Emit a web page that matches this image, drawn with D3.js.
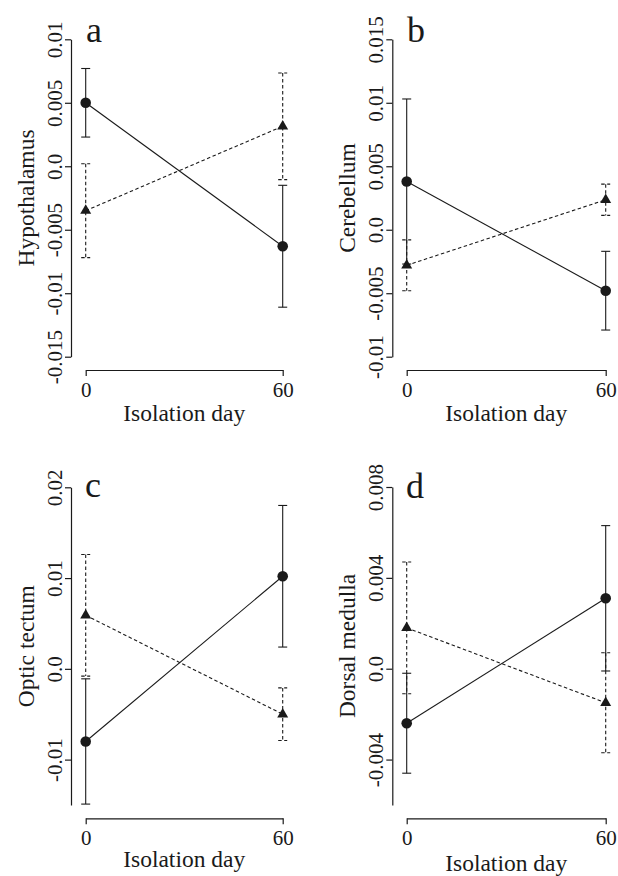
<!DOCTYPE html>
<html>
<head>
<meta charset="utf-8">
<script src="https://cdn.jsdelivr.net/npm/d3@7"></script>
<style>
  body { margin: 0; background: #fff; }
  svg text { font-family: "Liberation Serif", "Times New Roman", Times, serif; }
</style>
</head>
<body>
<svg id="chart" width="618" height="876"></svg>
<script>
// values
var days = [0, 60];
var panelLetters = ["a", "b", "c", "d"];
var regionNames = ["Hypothalamus", "Cerebellum", "Optic tectum", "Dorsal medulla"];
var yDomains = [[-0.015, 0.01], [-0.01, 0.015], [-0.015, 0.02], [-0.006, 0.008]];
var yTicks = [
  [-0.015, -0.01, -0.005, 0, 0.005, 0.01],
  [-0.01, -0.005, 0, 0.005, 0.01, 0.015],
  [-0.01, 0, 0.01, 0.02],
  [-0.004, 0, 0.004, 0.008]
];
var yTickLabels = [
  ["-0.015", "-0.01", "-0.005", "0.0", "0.005", "0.01"],
  ["-0.01", "-0.005", "0.0", "0.005", "0.01", "0.015"],
  ["-0.01", "0.0", "0.01", "0.02"],
  ["-0.004", "0.0", "0.004", "0.008"]
];
// solid line, circles
var circleMean = [[0.0050, -0.0063], [0.0038, -0.0048], [-0.0080, 0.0102], [-0.0024, 0.0031]];
var circleSE = [[0.0027, 0.0048], [0.0065, 0.0031], [0.0069, 0.0078], [0.0022, 0.0032]];
// dashed line, triangles
var triMean = [[-0.0035, 0.00315], [-0.0028, 0.00236], [0.0059, -0.0050], [0.0018, -0.0015]];
var triSE = [[0.0037, 0.0042], [0.0020, 0.00123], [0.0067, 0.0029], [0.0029, 0.0022]];

var svg = d3.select("#chart");
var ink = "#1a1a1a";
var serif = "'Liberation Serif', 'Times New Roman', Times, serif";

// panel frames (axis x position, x range, y range, x axis line)
var frames = [
  { ax: 71,    x0: 85.7,  x1: 282.7, yTop: 39.3,  yBot: 356.7, xAxisY: 370,   titleY: 421, letterX: 86,  letterY: 42 },
  { ax: 392.3, x0: 406.7, x1: 605.7, yTop: 39.3,  yBot: 356.7, xAxisY: 370,   titleY: 421, letterX: 407, letterY: 42 },
  { ax: 71,    x0: 85.7,  x1: 282.7, yTop: 487.3, yBot: 805,   xAxisY: 818.3, titleY: 867, letterX: 85,  letterY: 497 },
  { ax: 392.3, x0: 406.7, x1: 605.7, yTop: 487,   yBot: 805,   xAxisY: 818.3, titleY: 871, letterX: 406, letterY: 498 }
];

frames.forEach(function(f, i) {
  var g = svg.append("g");
  var x = d3.scaleLinear().domain([0, 60]).range([f.x0, f.x1]);
  var y = d3.scaleLinear().domain(yDomains[i]).range([f.yBot, f.yTop]);

  // y axis
  var yAx = g.append("g")
    .attr("transform", "translate(" + f.ax + ",0)")
    .call(d3.axisLeft(y).tickValues(yTicks[i])
      .tickFormat(function(d, k) { return yTickLabels[i][k]; })
      .tickSize(6).tickSizeOuter(0));
  yAx.selectAll("text")
    .attr("transform", "rotate(-90)")
    .attr("x", 0).attr("y", -9).attr("dy", 0)
    .attr("text-anchor", "middle")
    .style("font-size", "21px");

  // x axis
  var xAx = g.append("g")
    .attr("transform", "translate(0," + f.xAxisY + ")")
    .call(d3.axisBottom(x).tickValues(days).tickSize(6).tickSizeOuter(0));
  xAx.selectAll("text")
    .attr("y", 27).attr("dy", 0)
    .style("font-size", "21px");

  g.selectAll(".domain, .tick line").attr("stroke", ink).attr("stroke-width", 1.2);

  // titles
  g.append("text")
    .attr("transform", "translate(" + (f.ax - 37) + "," + ((f.yTop + f.yBot) / 2) + ") rotate(-90)")
    .attr("text-anchor", "middle")
    .style("font-size", "23.5px")
    .text(regionNames[i]);
  g.append("text")
    .attr("x", (f.x0 + f.x1) / 2).attr("y", f.titleY)
    .attr("text-anchor", "middle")
    .style("font-size", "23.5px")
    .text("Isolation day");
  g.append("text")
    .attr("x", f.letterX).attr("y", f.letterY)
    .style("font-size", "36px")
    .text(panelLetters[i]);

  var series = [
    { mean: triMean[i], se: triSE[i], dash: "3.5,2.5", shape: "tri" },
    { mean: circleMean[i], se: circleSE[i], dash: null, shape: "circle" }
  ];

  series.forEach(function(s) {
    var pts = days.map(function(d, k) { return { day: d, m: s.mean[k], e: s.se[k] }; });

    // error bars
    var eb = g.append("g").selectAll("g").data(pts).enter().append("g");
    eb.append("line")
      .attr("x1", function(p) { return x(p.day); })
      .attr("x2", function(p) { return x(p.day); })
      .attr("y1", function(p) { return y(p.m + p.e); })
      .attr("y2", function(p) { return y(p.m - p.e); });
    [1, -1].forEach(function(sg) {
      eb.append("line")
        .attr("x1", function(p) { return x(p.day) - 4.5; })
        .attr("x2", function(p) { return x(p.day) + 4.5; })
        .attr("y1", function(p) { return y(p.m + sg * p.e); })
        .attr("y2", function(p) { return y(p.m + sg * p.e); });
    });
    eb.selectAll("line")
      .attr("stroke", ink).attr("stroke-width", 1.1)
      .attr("stroke-dasharray", s.dash);

    // connecting line
    g.append("path")
      .datum(pts)
      .attr("d", d3.line().x(function(p) { return x(p.day); }).y(function(p) { return y(p.m); }))
      .attr("fill", "none").attr("stroke", ink).attr("stroke-width", 1.1)
      .attr("stroke-dasharray", s.dash);

    // markers
    if (s.shape === "circle") {
      g.selectAll(null).data(pts).enter().append("circle")
        .attr("cx", function(p) { return x(p.day); })
        .attr("cy", function(p) { return y(p.m); })
        .attr("r", 5.3).attr("fill", ink);
    } else {
      g.selectAll(null).data(pts).enter().append("path")
        .attr("d", d3.symbol().type(d3.symbolTriangle).size(52))
        .attr("transform", function(p) { return "translate(" + x(p.day) + "," + y(p.m) + ")"; })
        .attr("fill", ink);
    }
  });
});

// axis groups come with their own sans-serif font; use the serif face everywhere
svg.selectAll("g").attr("font-family", null);
svg.selectAll("text").style("font-family", serif).attr("fill", ink);
</script>
</body>
</html>
